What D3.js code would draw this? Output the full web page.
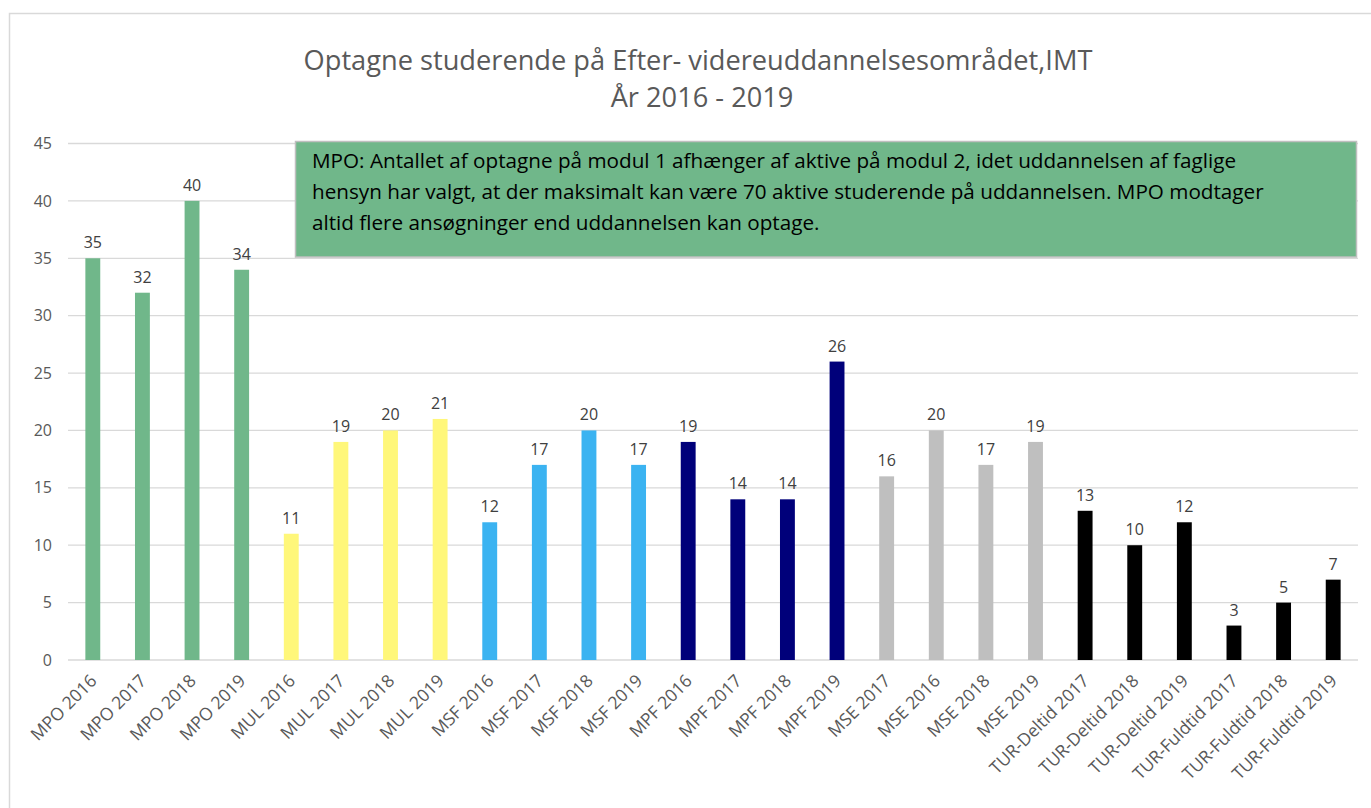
<!DOCTYPE html>
<html>
<head>
<meta charset="utf-8">
<script src="https://cdn.jsdelivr.net/npm/d3@7/dist/d3.min.js"></script>
<style>
  html, body { margin: 0; padding: 0; background: #ffffff; }
  svg { display: block; }
</style>
</head>
<body>
<svg id="chart" width="1371" height="808"></svg>
<script>
// ---- data ----
const categories = [
  "MPO 2016", "MPO 2017", "MPO 2018", "MPO 2019",
  "MUL 2016", "MUL 2017", "MUL 2018", "MUL 2019",
  "MSF 2016", "MSF 2017", "MSF 2018", "MSF 2019",
  "MPF 2016", "MPF 2017", "MPF 2018", "MPF 2019",
  "MSE 2017", "MSE 2016", "MSE 2018", "MSE 2019",
  "TUR-Deltid 2017", "TUR-Deltid 2018", "TUR-Deltid 2019",
  "TUR-Fuldtid 2017", "TUR-Fuldtid 2018", "TUR-Fuldtid 2019"
];
const values = [35, 32, 40, 34, 11, 19, 20, 21, 12, 17, 20, 17, 19, 14, 14, 26, 16, 20, 17, 19, 13, 10, 12, 3, 5, 7];
const groups = ["MPO","MPO","MPO","MPO","MUL","MUL","MUL","MUL","MSF","MSF","MSF","MSF","MPF","MPF","MPF","MPF","MSE","MSE","MSE","MSE","TUR","TUR","TUR","TUR","TUR","TUR"];
const groupNames = ["MPO", "MUL", "MSF", "MPF", "MSE", "TUR"];
const groupColors = ["#70b78a", "#fff77a", "#3bb3f1", "#00007a", "#bfbfbf", "#000000"];
const yTicks = [0, 5, 10, 15, 20, 25, 30, 35, 40, 45];
const titleLines = ["Optagne studerende på Efter- videreuddannelsesområdet,IMT", "År 2016 - 2019"];
const noteLines = [
  "MPO: Antallet af optagne på modul 1 afhænger af aktive på modul 2, idet uddannelsen af faglige",
  "hensyn har valgt, at der maksimalt kan være 70 aktive studerende på uddannelsen. MPO modtager",
  "altid flere ansøgninger end uddannelsen kan optage."
];

// ---- layout ----
const FONT = "'Open Sans', 'Liberation Sans', sans-serif";
const svg = d3.select("#chart");
const plot = { left: 68, right: 1358, top: 143.5, bottom: 660 };

// outer chart border
svg.append("rect")
  .attr("x", 9.5).attr("y", 13.5)
  .attr("width", 1400).attr("height", 900)
  .attr("fill", "#ffffff").attr("stroke", "#d9d9d9").attr("stroke-width", 1.5);

const x = d3.scaleBand().domain(categories).range([plot.left, plot.right]).paddingInner(0.7).paddingOuter(0.35);
const y = d3.scaleLinear().domain([0, 45]).range([plot.bottom, plot.top]);
const color = d3.scaleOrdinal().domain(groupNames).range(groupColors);

// gridlines
svg.append("g").selectAll("line").data(yTicks).join("line")
  .attr("x1", plot.left).attr("x2", plot.right)
  .attr("y1", d => y(d)).attr("y2", d => y(d))
  .attr("stroke", "#d9d9d9").attr("stroke-width", 1.3);

// y axis labels
const yAxis = d3.axisLeft(y).tickValues(yTicks).tickSize(0).tickPadding(0);
const gy = svg.append("g").attr("transform", `translate(${plot.left - 16},0)`).call(yAxis);
gy.select(".domain").remove();
gy.selectAll("text").attr("font-family", FONT).attr("font-size", 16).attr("fill", "#595959");

// bars
svg.append("g").selectAll("rect").data(categories).join("rect")
  .attr("x", d => x(d))
  .attr("width", x.bandwidth())
  .attr("y", (d, i) => y(values[i]))
  .attr("height", (d, i) => y(0) - y(values[i]))
  .attr("fill", (d, i) => color(groups[i]));

// value labels
svg.append("g").selectAll("text").data(categories).join("text")
  .attr("x", d => x(d) + x.bandwidth() / 2)
  .attr("y", (d, i) => y(values[i]) - 10)
  .attr("text-anchor", "middle")
  .attr("font-family", FONT).attr("font-size", 16).attr("fill", "#404040")
  .text((d, i) => values[i]);

// x axis labels (rotated -45)
svg.append("g").attr("class", "xlabels").selectAll("text").data(categories).join("text")
  .attr("transform", d => `translate(${x(d) + x.bandwidth() / 2 + 5},${plot.bottom + 22}) rotate(-45)`)
  .attr("text-anchor", "end")
  .attr("font-family", FONT).attr("font-size", 17.5).attr("fill", "#595959")
  .text(d => d);

// helper: fit a text element to a target width
function fit(sel, targetWidth, baseSize) {
  sel.attr("font-size", baseSize);
  const w = sel.node().getComputedTextLength();
  sel.attr("font-size", baseSize * targetWidth / w);
}

// title
const t1 = svg.append("text").attr("x", 698).attr("y", 70).attr("text-anchor", "middle")
  .attr("font-family", FONT).attr("fill", "#595959").text(titleLines[0]);
fit(t1, 789, 24);
svg.append("text").attr("x", 702).attr("y", 107).attr("text-anchor", "middle")
  .attr("font-family", FONT).attr("fill", "#595959").attr("font-size", t1.attr("font-size"))
  .text(titleLines[1]);

// annotation box
svg.append("rect")
  .attr("x", 295.5).attr("y", 141.5).attr("width", 1061).attr("height", 115.5)
  .attr("fill", "#70b78a").attr("stroke", "#bfbfbf").attr("stroke-width", 1.5);
const noteTexts = svg.append("g").selectAll("text").data(noteLines).join("text")
  .attr("x", 312).attr("y", (d, i) => 168 + i * 31)
  .attr("font-family", FONT).attr("fill", "#000000")
  .text(d => d);
const n2 = d3.select(noteTexts.nodes()[1]);
fit(n2, 952, 18);
noteTexts.attr("font-size", n2.attr("font-size"));
</script>
</body>
</html>
